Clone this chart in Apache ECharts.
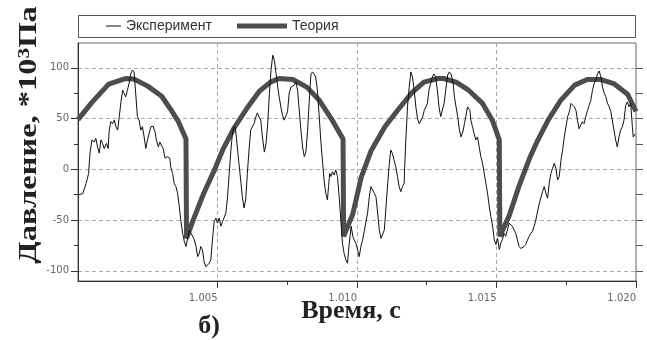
<!DOCTYPE html>
<html><head><meta charset="utf-8">
<script src="https://cdn.jsdelivr.net/npm/echarts@6/dist/echarts.min.js"></script>
<style>html,body{margin:0;padding:0;background:#fff}#c{width:647px;height:340px}</style>
</head><body><div id="c"></div>
<script>
// time offsets in ms from t = 1.000 s
var expMs = [0.02,0.17,0.29,0.38,0.43,0.50,0.58,0.64,0.70,0.76,0.82,0.88,0.94,1.02,1.08,1.12,1.18,1.24,1.30,1.36,1.42,1.48,1.54,1.60,1.65,1.71,1.77,1.83,1.89,1.95,2.01,2.07,2.13,2.19,2.25,2.31,2.37,2.43,2.49,2.55,2.61,2.69,2.76,2.81,2.88,2.93,3.00,3.05,3.12,3.20,3.29,3.32,
3.39,3.45,3.51,3.57,3.63,3.69,3.75,3.81,3.87,3.93,3.99,4.05,4.11,4.17,4.23,4.29,4.35,4.40,4.46,4.52,4.58,4.64,4.70,4.76,4.82,4.88,4.94,5.00,5.06,5.12,5.18,5.24,5.30,5.36,5.42,5.48,5.54,5.60,5.65,5.71,5.77,5.83,5.89,5.95,6.01,6.07,6.13,6.19,6.25,6.31,6.37,6.43,6.49,6.55,6.61,
6.68,6.74,6.80,6.86,6.92,6.98,7.04,7.10,7.16,7.21,7.27,7.33,7.39,7.45,7.51,7.57,7.63,7.69,7.75,7.81,7.87,7.93,7.99,8.05,8.11,8.17,8.23,8.29,8.35,8.41,8.46,8.52,8.58,8.64,8.70,8.76,8.82,8.88,8.94,8.98,9.02,9.06,9.12,9.18,9.24,9.30,9.36,9.42,9.48,9.54,9.60,9.66,9.71,
9.79,9.85,9.90,9.96,10.02,10.08,10.14,10.20,10.26,10.32,10.38,10.44,10.50,10.56,10.62,10.68,10.74,10.80,10.86,10.92,10.98,11.04,11.10,11.16,11.21,11.27,11.33,11.39,11.45,11.51,11.57,11.63,11.69,11.71,11.75,11.81,11.87,11.93,11.99,12.05,12.11,12.17,12.23,12.29,12.35,12.41,12.46,12.52,12.58,12.64,12.70,12.76,12.82,12.88,12.94,13.00,13.06,13.12,13.18,
13.25,13.31,13.37,13.40,13.45,13.49,13.55,13.61,13.67,13.73,13.76,13.81,13.85,13.90,13.96,14.00,14.05,14.08,14.14,14.20,14.26,14.32,14.38,14.44,14.50,14.56,14.62,14.68,14.74,14.80,14.86,14.92,14.98,15.04,15.10,15.16,15.21,15.27,15.33,15.39,15.45,15.51,15.57,15.63,15.69,15.75,15.81,15.87,15.93,15.99,16.05,16.11,16.17,16.23,16.29,16.35,16.41,16.46,
16.54,16.60,16.65,16.71,16.77,16.83,16.89,16.95,17.01,17.07,17.13,17.19,17.25,17.31,17.37,17.43,17.49,17.55,17.61,17.67,17.73,17.79,17.85,17.90,17.96,18.02,18.08,18.14,18.20,18.26,18.32,18.38,18.44,18.50,18.56,18.62,18.68,18.74,18.80,18.86,18.92,18.98,19.04,19.10,19.15,19.21,19.27,19.33,19.39,19.45,19.51,19.57,19.63,19.69,19.75,19.81,19.87,19.90,19.97];
var expP = [-25,-24,-14,-4,16,29,27,30.5,22,16,29,25.6,20.6,25.6,20.6,38.7,47,45,48.5,42,38.7,52,66.5,78,75,71.5,78,84.6,94,98,96,96,52,48.5,38.7,42,32,20.6,29,29,42,42.6,37,29,22,27,27,20.6,11,12.5,11,2.6,
-4,-14,-17,-23.6,-36.7,-51.5,-63,-71,-76,-68,-60,-63,-66,-69.5,-76,-86,-82.6,-76,-79,-91,-96,-97,-92.5,-89,-69.5,-51.5,-48,-53,-48,-56,-51.5,-50,-43,-27,-4,19,37,42,38.7,22,5.6,-10.5,-27,-38,-30,-4,19,38.7,40.3,45,51.5,55.7,51.5,48.5,32,
17,25.6,45,75,98,112.5,107.5,94,81,71.5,61.6,53.4,48.5,47,56.7,75,81,79.3,83,86,78,58,38.7,22,12.5,17.4,38.7,68,94,96,94,91,78,55,29,9,-10.5,-23.6,-30,-17,-4,-7,-2.3,-5.6,-0.6,-7,-27,-50,-73,-83,-89,-92.5,-76,
-56,-66,-69.5,-72.8,-79,-86,-76,-69.5,-61,-59.7,-43,-27,-17,-15.4,-23.6,-27,-43,-60,-68,-69.5,-59.7,-36.7,-13.8,6,19,15.7,9,2.6,-7,-17,-22,-17,-13.8,2.6,29,61.6,81,96,91,78,61.6,50,45,43.6,51.5,58,56.4,64.6,78,84.6,91,94,91,78,61.6,52,50.5,65,78,
93,96,94,93,84.6,71.5,61.6,52,38.7,32,30.5,38.7,45,52,61.6,63,58,48.5,42,35,29,32,22,12.5,6,-4,-14,-23.6,-36.7,-46.5,-56,-69.5,-74,-68,-79,-72,-69.5,-63,-66,-59.7,-53,-51.5,-56,-59.7,-63,-69.5,-76,-78,-79,-76,-74,-69.5,-66,-63,-61,-56,-50,-43,
-33,-27,-22,-17,-23.6,-28.5,-13.8,-4,1,6,1,-10.5,-7,9,19,32,42,52,56.7,65,66.5,61.6,58,48.5,40,43.6,47,45,52,58,63,68,78,84.6,88,94,97,91,81,75,71.5,65,61.6,56.7,48.5,38.7,29,22,32,38.7,42,48.5,63,66.5,61.6,65,42,32,35];

var theoryMs = [0.0,0.5,1.1,1.7,2.0,2.5,3.0,3.3,3.6,3.87,3.89,4.1,4.5,4.9,5.2,5.6,6.1,6.5,6.9,7.2,7.7,8.2,8.65,9.1,9.5,9.52,9.85,10.15,10.5,11.0,11.45,11.95,12.4,12.9,13.1,13.55,14.0,14.5,14.85,15.1,15.12,15.45,15.8,16.2,16.45,16.85,17.3,17.8,18.25,18.75,19.2,19.7,20.0];
var theoryP  = [49,66,84,89.5,89,82,72,60,47,30,-68,-52,-24,0,20,41,62,77,86,89.5,88.5,81,68,49,30,-66,-44,-8,18,42,58,75,86,89.5,89.5,86,78,65,48.5,29,-66,-46,-17,12,27,48.5,68,83,88.5,88.5,84.5,74,57];

var xMajorTicks = [1.005, 1.010, 1.015, 1.020];
var xMinorTicks = [1.0075, 1.0125, 1.0175];
var yMajorTicks = [-100, -50, 0, 50, 100];
var yMinorTicks = [-75, -25, 25, 75];
var yAllTicks = [-100, -75, -50, -25, 0, 25, 50, 75, 100];
var seriesNames = ['Эксперимент', 'Теория'];

function pairs(ms, p) { return ms.map(function (m, i) { return [1 + m / 1000, p[i]]; }); }

var chart = echarts.init(document.getElementById('c'), null, {renderer: 'canvas'});
var lblFont = '"DejaVu Sans", sans-serif';
var serif = '"Liberation Serif", "Times New Roman", serif';
var legendText = {fontSize: 14, color: '#333', fontFamily: '"Liberation Sans", Arial, sans-serif'};
chart.setOption({
  animation: false,
  backgroundColor: '#fff',
  grid: {left: 78, right: 11, top: 43, bottom: 59, show: true, borderColor: '#666', borderWidth: 1, backgroundColor: 'transparent'},
  legend: [
    {data: [seriesNames[0]], left: 106, top: 19, padding: 0, itemWidth: 15, itemHeight: 1, icon: 'rect', textStyle: legendText},
    {data: [seriesNames[1]], left: 237, top: 19, padding: 0, itemWidth: 50, itemHeight: 5, icon: 'rect', textStyle: legendText}
  ],
  xAxis: [
    {type: 'value', min: 1.0, max: 1.02, interval: 0.005, position: 'bottom',
     axisLine: {show: true, onZero: false, lineStyle: {color: '#333', width: 1}},
     axisTick: {show: true, customValues: xMajorTicks, length: 7, lineStyle: {color: '#333'}},
     axisLabel: {show: true, customValues: xMajorTicks, align: 'right', margin: 12, fontSize: 10, color: '#666', fontFamily: lblFont,
                 formatter: function (v) { return v.toFixed(3); }},
     splitLine: {show: true, lineStyle: {color: '#aaa', type: [4, 3], width: 1}}},
    {type: 'value', min: 1.0, max: 1.02, interval: 0.005, position: 'bottom',
     axisLine: {show: false, onZero: false},
     axisTick: {show: true, customValues: xMinorTicks, length: 4, lineStyle: {color: '#333'}},
     axisLabel: {show: false}, splitLine: {show: false}}
  ],
  yAxis: [
    {type: 'value', min: -110, max: 124.5, splitNumber: 5, position: 'left',
     axisLine: {show: true, onZero: false, lineStyle: {color: '#333', width: 1}},
     axisTick: {show: true, customValues: yMajorTicks, length: 7, lineStyle: {color: '#333'}},
     axisLabel: {show: true, customValues: yMajorTicks, margin: 9, fontSize: 10, color: '#666', fontFamily: lblFont},
     splitLine: {show: true, lineStyle: {color: '#aaa', type: [4, 3], width: 1}}},
    {type: 'value', min: -110, max: 124.5, splitNumber: 5, position: 'left',
     axisLine: {show: false, onZero: false},
     axisTick: {show: true, customValues: yMinorTicks, length: 4, lineStyle: {color: '#333'}},
     axisLabel: {show: false}, splitLine: {show: false}},
    {type: 'value', min: -110, max: 124.5, splitNumber: 5, position: 'right',
     axisLine: {show: false, onZero: false},
     axisTick: {show: true, customValues: yAllTicks, length: 7, lineStyle: {color: '#555'}},
     axisLabel: {show: false}, splitLine: {show: false}}
  ],
  graphic: [
    {type: 'rect', shape: {x: 78.5, y: 15.5, width: 557, height: 22}, style: {fill: 'none', stroke: '#555', lineWidth: 1}, z: 1},
    {type: 'text', x: 29, y: 135, rotation: Math.PI / 2, scaleX: 1.25, scaleY: 1,
     style: {text: 'Давление, *10{s|3}Па', font: 'bold 26px ' + serif, fill: '#222', align: 'center', verticalAlign: 'middle',
             rich: {s: {fontSize: 17, fontWeight: 'bold', fontFamily: serif, fill: '#222', verticalAlign: 'top'}}}},
    {type: 'text', x: 351, y: 311, style: {text: 'Время, с', font: 'bold 26px ' + serif, fill: '#222', align: 'center', verticalAlign: 'middle'}},
    {type: 'text', x: 209, y: 326, style: {text: 'б)', font: 'bold 26px ' + serif, fill: '#222', align: 'center', verticalAlign: 'middle'}}
  ],
  series: [
    {name: seriesNames[0], type: 'line', xAxisIndex: 0, yAxisIndex: 0, data: pairs(expMs, expP), symbol: 'none',
     lineStyle: {color: '#111', width: 1}, itemStyle: {color: '#111'}, z: 3},
    {name: seriesNames[1], type: 'line', xAxisIndex: 0, yAxisIndex: 0, data: pairs(theoryMs, theoryP), symbol: 'none',
     lineStyle: {color: '#4d4d4d', width: 5}, itemStyle: {color: '#4d4d4d'}, z: 2}
  ]
});
</script></body></html>
